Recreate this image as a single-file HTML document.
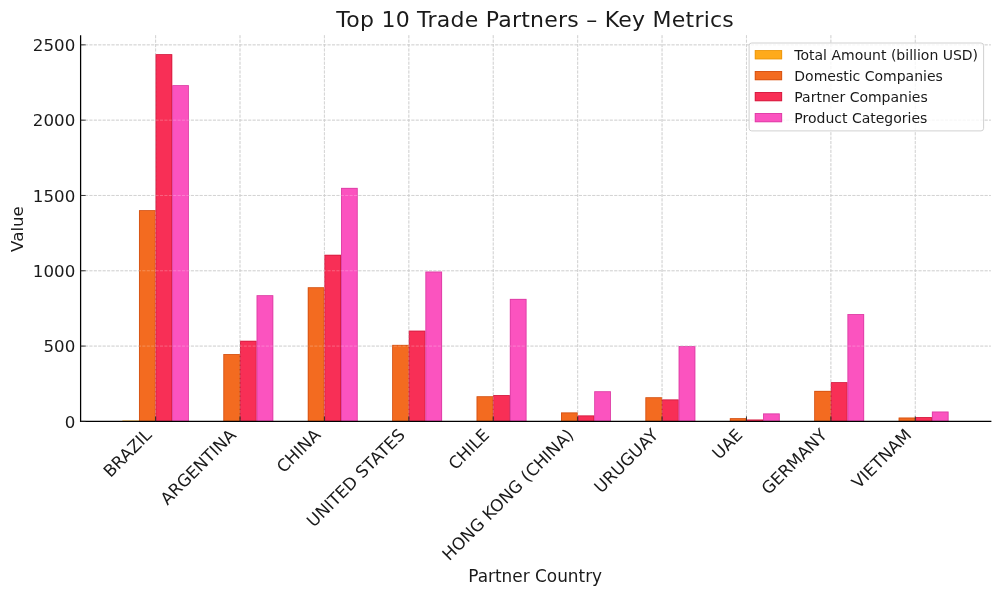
<!DOCTYPE html>
<html lang="en"><head><meta charset="utf-8"><title>Top 10 Trade Partners – Key Metrics</title>
<style>html,body{margin:0;padding:0;background:#fff;}body{width:1000px;height:596px;overflow:hidden;}svg{display:block;}text{font-family:"DejaVu Sans","Liberation Sans",sans-serif;fill:#1a1a1a;}</style></head><body>
<svg width="1000" height="596" viewBox="0 0 1000 596">
<rect x="0" y="0" width="1000" height="596" fill="#ffffff"/>
<g stroke="#9a9a9a" stroke-opacity="0.68" stroke-width="0.85" stroke-dasharray="3.08 1.33" fill="none"><line x1="155.60" y1="35.20" x2="155.60" y2="421.40"/><line x1="240.01" y1="35.20" x2="240.01" y2="421.40"/><line x1="324.42" y1="35.20" x2="324.42" y2="421.40"/><line x1="408.83" y1="35.20" x2="408.83" y2="421.40"/><line x1="493.24" y1="35.20" x2="493.24" y2="421.40"/><line x1="577.65" y1="35.20" x2="577.65" y2="421.40"/><line x1="662.06" y1="35.20" x2="662.06" y2="421.40"/><line x1="746.47" y1="35.20" x2="746.47" y2="421.40"/><line x1="830.88" y1="35.20" x2="830.88" y2="421.40"/><line x1="915.29" y1="35.20" x2="915.29" y2="421.40"/><line x1="80.60" y1="346.09" x2="990.90" y2="346.09"/><line x1="80.60" y1="270.78" x2="990.90" y2="270.78"/><line x1="80.60" y1="195.47" x2="990.90" y2="195.47"/><line x1="80.60" y1="120.16" x2="990.90" y2="120.16"/><line x1="80.60" y1="44.85" x2="990.90" y2="44.85"/></g>
<g opacity="1"><rect x="122.36" y="420.50" width="16.62" height="0.90" fill="#FFAA1A"/><rect x="138.98" y="210.20" width="16.62" height="211.20" fill="#F36B20"/><rect x="139.38" y="210.60" width="15.82" height="210.80" fill="none" stroke="#B83A08" stroke-width="0.8" stroke-opacity="0.55"/><rect x="155.60" y="54.20" width="16.62" height="367.20" fill="#F82F56"/><rect x="156.00" y="54.60" width="15.82" height="366.80" fill="none" stroke="#B00A2C" stroke-width="0.8" stroke-opacity="0.55"/><rect x="172.22" y="85.20" width="16.62" height="336.20" fill="#FB53BF"/><rect x="172.62" y="85.60" width="15.82" height="335.80" fill="none" stroke="#C02A8C" stroke-width="0.8" stroke-opacity="0.55"/><rect x="206.77" y="421.20" width="16.62" height="0.20" fill="#FFAA1A"/><rect x="223.39" y="354.10" width="16.62" height="67.30" fill="#F36B20"/><rect x="223.79" y="354.50" width="15.82" height="66.90" fill="none" stroke="#B83A08" stroke-width="0.8" stroke-opacity="0.55"/><rect x="240.01" y="340.80" width="16.62" height="80.60" fill="#F82F56"/><rect x="240.41" y="341.20" width="15.82" height="80.20" fill="none" stroke="#B00A2C" stroke-width="0.8" stroke-opacity="0.55"/><rect x="256.63" y="295.25" width="16.62" height="126.15" fill="#FB53BF"/><rect x="257.03" y="295.65" width="15.82" height="125.75" fill="none" stroke="#C02A8C" stroke-width="0.8" stroke-opacity="0.55"/><rect x="291.18" y="421.10" width="16.62" height="0.30" fill="#FFAA1A"/><rect x="307.80" y="287.30" width="16.62" height="134.10" fill="#F36B20"/><rect x="308.20" y="287.70" width="15.82" height="133.70" fill="none" stroke="#B83A08" stroke-width="0.8" stroke-opacity="0.55"/><rect x="324.42" y="254.80" width="16.62" height="166.60" fill="#F82F56"/><rect x="324.82" y="255.20" width="15.82" height="166.20" fill="none" stroke="#B00A2C" stroke-width="0.8" stroke-opacity="0.55"/><rect x="341.04" y="187.90" width="16.62" height="233.50" fill="#FB53BF"/><rect x="341.44" y="188.30" width="15.82" height="233.10" fill="none" stroke="#C02A8C" stroke-width="0.8" stroke-opacity="0.55"/><rect x="375.59" y="421.20" width="16.62" height="0.20" fill="#FFAA1A"/><rect x="392.21" y="344.90" width="16.62" height="76.50" fill="#F36B20"/><rect x="392.61" y="345.30" width="15.82" height="76.10" fill="none" stroke="#B83A08" stroke-width="0.8" stroke-opacity="0.55"/><rect x="408.83" y="330.70" width="16.62" height="90.70" fill="#F82F56"/><rect x="409.23" y="331.10" width="15.82" height="90.30" fill="none" stroke="#B00A2C" stroke-width="0.8" stroke-opacity="0.55"/><rect x="425.45" y="271.60" width="16.62" height="149.80" fill="#FB53BF"/><rect x="425.85" y="272.00" width="15.82" height="149.40" fill="none" stroke="#C02A8C" stroke-width="0.8" stroke-opacity="0.55"/><rect x="476.62" y="396.30" width="16.62" height="25.10" fill="#F36B20"/><rect x="477.02" y="396.70" width="15.82" height="24.70" fill="none" stroke="#B83A08" stroke-width="0.8" stroke-opacity="0.55"/><rect x="493.24" y="395.10" width="16.62" height="26.30" fill="#F82F56"/><rect x="493.64" y="395.50" width="15.82" height="25.90" fill="none" stroke="#B00A2C" stroke-width="0.8" stroke-opacity="0.55"/><rect x="509.86" y="298.90" width="16.62" height="122.50" fill="#FB53BF"/><rect x="510.26" y="299.30" width="15.82" height="122.10" fill="none" stroke="#C02A8C" stroke-width="0.8" stroke-opacity="0.55"/><rect x="561.03" y="412.50" width="16.62" height="8.90" fill="#F36B20"/><rect x="561.43" y="412.90" width="15.82" height="8.50" fill="none" stroke="#B83A08" stroke-width="0.8" stroke-opacity="0.55"/><rect x="577.65" y="415.50" width="16.62" height="5.90" fill="#F82F56"/><rect x="578.05" y="415.90" width="15.82" height="5.50" fill="none" stroke="#B00A2C" stroke-width="0.8" stroke-opacity="0.55"/><rect x="594.27" y="391.30" width="16.62" height="30.10" fill="#FB53BF"/><rect x="594.67" y="391.70" width="15.82" height="29.70" fill="none" stroke="#C02A8C" stroke-width="0.8" stroke-opacity="0.55"/><rect x="645.44" y="397.30" width="16.62" height="24.10" fill="#F36B20"/><rect x="645.84" y="397.70" width="15.82" height="23.70" fill="none" stroke="#B83A08" stroke-width="0.8" stroke-opacity="0.55"/><rect x="662.06" y="399.50" width="16.62" height="21.90" fill="#F82F56"/><rect x="662.46" y="399.90" width="15.82" height="21.50" fill="none" stroke="#B00A2C" stroke-width="0.8" stroke-opacity="0.55"/><rect x="678.68" y="346.10" width="16.62" height="75.30" fill="#FB53BF"/><rect x="679.08" y="346.50" width="15.82" height="74.90" fill="none" stroke="#C02A8C" stroke-width="0.8" stroke-opacity="0.55"/><rect x="729.85" y="418.20" width="16.62" height="3.20" fill="#F36B20"/><rect x="730.25" y="418.60" width="15.82" height="2.80" fill="none" stroke="#B83A08" stroke-width="0.8" stroke-opacity="0.55"/><rect x="746.47" y="419.60" width="16.62" height="1.80" fill="#F82F56"/><rect x="746.87" y="420.00" width="15.82" height="1.40" fill="none" stroke="#B00A2C" stroke-width="0.8" stroke-opacity="0.55"/><rect x="763.09" y="413.50" width="16.62" height="7.90" fill="#FB53BF"/><rect x="763.49" y="413.90" width="15.82" height="7.50" fill="none" stroke="#C02A8C" stroke-width="0.8" stroke-opacity="0.55"/><rect x="814.26" y="390.90" width="16.62" height="30.50" fill="#F36B20"/><rect x="814.66" y="391.30" width="15.82" height="30.10" fill="none" stroke="#B83A08" stroke-width="0.8" stroke-opacity="0.55"/><rect x="830.88" y="382.20" width="16.62" height="39.20" fill="#F82F56"/><rect x="831.28" y="382.60" width="15.82" height="38.80" fill="none" stroke="#B00A2C" stroke-width="0.8" stroke-opacity="0.55"/><rect x="847.50" y="314.10" width="16.62" height="107.30" fill="#FB53BF"/><rect x="847.90" y="314.50" width="15.82" height="106.90" fill="none" stroke="#C02A8C" stroke-width="0.8" stroke-opacity="0.55"/><rect x="898.67" y="417.60" width="16.62" height="3.80" fill="#F36B20"/><rect x="899.07" y="418.00" width="15.82" height="3.40" fill="none" stroke="#B83A08" stroke-width="0.8" stroke-opacity="0.55"/><rect x="915.29" y="417.10" width="16.62" height="4.30" fill="#F82F56"/><rect x="915.69" y="417.50" width="15.82" height="3.90" fill="none" stroke="#B00A2C" stroke-width="0.8" stroke-opacity="0.55"/><rect x="931.91" y="411.60" width="16.62" height="9.80" fill="#FB53BF"/><rect x="932.31" y="412.00" width="15.82" height="9.40" fill="none" stroke="#C02A8C" stroke-width="0.8" stroke-opacity="0.55"/></g>
<g stroke="#ffffff" stroke-opacity="0.3" stroke-width="0.85" stroke-dasharray="3.08 1.33" fill="none"><line x1="155.60" y1="35.20" x2="155.60" y2="421.40"/><line x1="240.01" y1="35.20" x2="240.01" y2="421.40"/><line x1="324.42" y1="35.20" x2="324.42" y2="421.40"/><line x1="408.83" y1="35.20" x2="408.83" y2="421.40"/><line x1="493.24" y1="35.20" x2="493.24" y2="421.40"/><line x1="577.65" y1="35.20" x2="577.65" y2="421.40"/><line x1="662.06" y1="35.20" x2="662.06" y2="421.40"/><line x1="746.47" y1="35.20" x2="746.47" y2="421.40"/><line x1="830.88" y1="35.20" x2="830.88" y2="421.40"/><line x1="915.29" y1="35.20" x2="915.29" y2="421.40"/><line x1="80.60" y1="346.09" x2="990.90" y2="346.09"/><line x1="80.60" y1="270.78" x2="990.90" y2="270.78"/><line x1="80.60" y1="195.47" x2="990.90" y2="195.47"/><line x1="80.60" y1="120.16" x2="990.90" y2="120.16"/><line x1="80.60" y1="44.85" x2="990.90" y2="44.85"/></g>
<g stroke="#000" stroke-width="1.25" fill="none">
<line x1="80.60" y1="35.20" x2="80.60" y2="421.95"/>
<line x1="80.05" y1="421.40" x2="991.40" y2="421.40"/>
</g>
<g stroke="#222" stroke-width="1.0" stroke-opacity="0.9"><line x1="155.60" y1="421.40" x2="155.60" y2="416.40"/><line x1="240.01" y1="421.40" x2="240.01" y2="416.40"/><line x1="324.42" y1="421.40" x2="324.42" y2="416.40"/><line x1="408.83" y1="421.40" x2="408.83" y2="416.40"/><line x1="493.24" y1="421.40" x2="493.24" y2="416.40"/><line x1="577.65" y1="421.40" x2="577.65" y2="416.40"/><line x1="662.06" y1="421.40" x2="662.06" y2="416.40"/><line x1="746.47" y1="421.40" x2="746.47" y2="416.40"/><line x1="830.88" y1="421.40" x2="830.88" y2="416.40"/><line x1="915.29" y1="421.40" x2="915.29" y2="416.40"/><line x1="80.60" y1="421.40" x2="85.60" y2="421.40"/><line x1="80.60" y1="346.09" x2="85.60" y2="346.09"/><line x1="80.60" y1="270.78" x2="85.60" y2="270.78"/><line x1="80.60" y1="195.47" x2="85.60" y2="195.47"/><line x1="80.60" y1="120.16" x2="85.60" y2="120.16"/><line x1="80.60" y1="44.85" x2="85.60" y2="44.85"/></g>
<text x="75.25" y="427.60" font-size="16.67" text-anchor="end">0</text>
<text x="75.25" y="352.29" font-size="16.67" text-anchor="end">500</text>
<text x="75.25" y="276.98" font-size="16.67" text-anchor="end">1000</text>
<text x="75.25" y="201.67" font-size="16.67" text-anchor="end">1500</text>
<text x="75.25" y="126.36" font-size="16.67" text-anchor="end">2000</text>
<text x="75.25" y="51.05" font-size="16.67" text-anchor="end">2500</text>
<text transform="translate(152.70,436.00) rotate(-45)" font-size="16.8" text-anchor="end">BRAZIL</text>
<text transform="translate(237.11,436.00) rotate(-45)" font-size="16.8" text-anchor="end">ARGENTINA</text>
<text transform="translate(321.52,436.00) rotate(-45)" font-size="16.8" text-anchor="end">CHINA</text>
<text transform="translate(405.93,436.00) rotate(-45)" font-size="16.8" text-anchor="end">UNITED STATES</text>
<text transform="translate(490.34,436.00) rotate(-45)" font-size="16.8" text-anchor="end">CHILE</text>
<text transform="translate(574.75,436.00) rotate(-45)" font-size="16.8" text-anchor="end">HONG KONG (CHINA)</text>
<text transform="translate(659.16,436.00) rotate(-45)" font-size="16.8" text-anchor="end">URUGUAY</text>
<text transform="translate(743.57,436.00) rotate(-45)" font-size="16.8" text-anchor="end">UAE</text>
<text transform="translate(827.98,436.00) rotate(-45)" font-size="16.8" text-anchor="end">GERMANY</text>
<text transform="translate(912.39,436.00) rotate(-45)" font-size="16.8" text-anchor="end">VIETNAM</text>
<text x="535.2" y="26.8" font-size="22.0" letter-spacing="0.235" text-anchor="middle">Top 10 Trade Partners – Key Metrics</text>
<text x="535.2" y="582.2" font-size="16.9" text-anchor="middle">Partner Country</text>
<text transform="translate(23.0,229.0) rotate(-90)" font-size="16.67" text-anchor="middle">Value</text>
<rect x="749.1" y="43.0" width="234.5" height="87.9" rx="2.6" ry="2.6" fill="#ffffff" fill-opacity="0.8" stroke="#cccccc" stroke-opacity="0.9" stroke-width="1"/>
<g opacity="1"><rect x="754.8" y="50.10" width="27.3" height="9.2" fill="#FFAA1A"/><rect x="755.2" y="50.50" width="26.5" height="8.4" fill="none" stroke="#D98500" stroke-width="0.8" stroke-opacity="0.55"/></g>
<text x="794.3" y="59.60" font-size="14.0">Total Amount (billion USD)</text>
<g opacity="1"><rect x="754.8" y="71.00" width="27.3" height="9.2" fill="#F36B20"/><rect x="755.2" y="71.40" width="26.5" height="8.4" fill="none" stroke="#B83A08" stroke-width="0.8" stroke-opacity="0.55"/></g>
<text x="794.3" y="80.50" font-size="14.0">Domestic Companies</text>
<g opacity="1"><rect x="754.8" y="92.00" width="27.3" height="9.2" fill="#F82F56"/><rect x="755.2" y="92.40" width="26.5" height="8.4" fill="none" stroke="#B00A2C" stroke-width="0.8" stroke-opacity="0.55"/></g>
<text x="794.3" y="101.50" font-size="14.0">Partner Companies</text>
<g opacity="1"><rect x="754.8" y="113.00" width="27.3" height="9.2" fill="#FB53BF"/><rect x="755.2" y="113.40" width="26.5" height="8.4" fill="none" stroke="#C02A8C" stroke-width="0.8" stroke-opacity="0.55"/></g>
<text x="794.3" y="122.50" font-size="14.0">Product Categories</text>
</svg></body></html>
